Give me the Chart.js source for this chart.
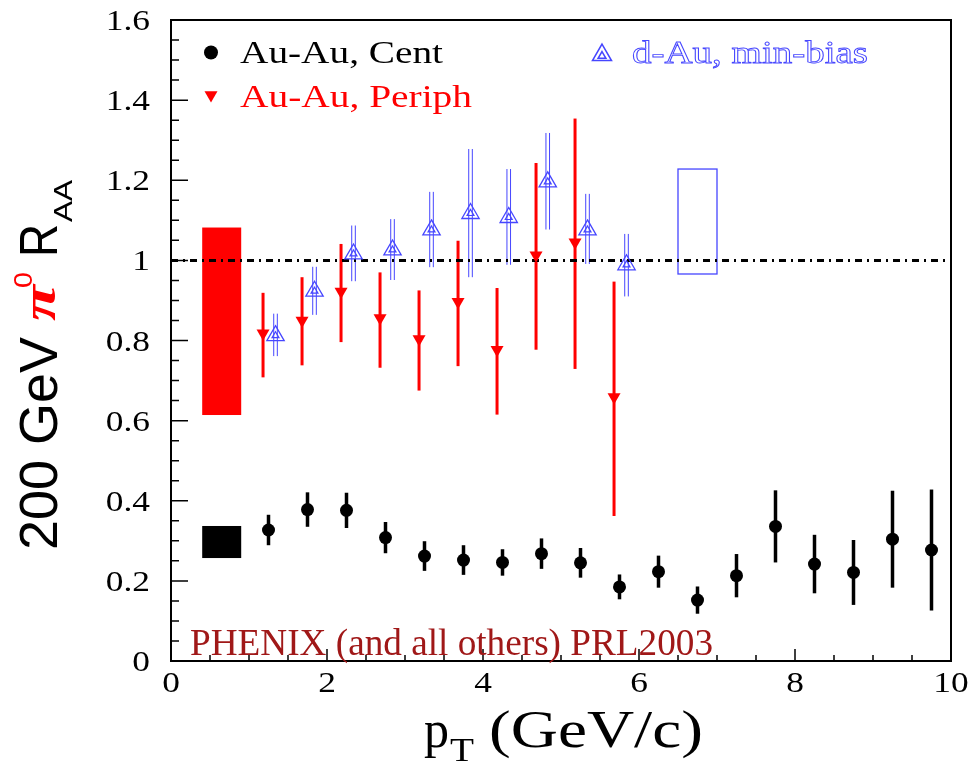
<!DOCTYPE html>
<html>
<head>
<meta charset="utf-8">
<script src="https://cdn.jsdelivr.net/npm/chart.js@4.4.0/dist/chart.umd.min.js"></script>
<style>
  html, body { margin: 0; padding: 0; background: #fff; }
</style>
</head>
<body>
<canvas id="raaChart" width="980" height="764"></canvas>
<script>
// Au-Au central
const centPt  = [1.25, 1.75, 2.25, 2.75, 3.25, 3.75, 4.25, 4.75, 5.25, 5.75, 6.25, 6.75, 7.25, 7.75, 8.25, 8.75, 9.25, 9.75];
const centRaa = [0.327, 0.378, 0.376, 0.308, 0.262, 0.252, 0.246, 0.268, 0.245, 0.185, 0.223, 0.152, 0.213, 0.336, 0.242, 0.221, 0.304, 0.277];
const centErr = [0.038, 0.043, 0.044, 0.039, 0.037, 0.037, 0.033, 0.038, 0.037, 0.031, 0.040, 0.034, 0.054, 0.090, 0.073, 0.081, 0.121, 0.151];

// Au-Au peripheral
const periphPt  = [1.18, 1.68, 2.18, 2.68, 3.18, 3.68, 4.18, 4.68, 5.18, 5.68];
const periphRaa = [0.818, 0.850, 0.922, 0.856, 0.804, 0.897, 0.777, 1.013, 1.045, 0.659];
const periphLo  = [0.708, 0.738, 0.796, 0.732, 0.675, 0.736, 0.615, 0.777, 0.729, 0.362];
const periphHi  = [0.919, 0.958, 1.041, 0.970, 0.925, 1.049, 0.931, 1.243, 1.354, 0.947];

// d-Au min bias
const dauPt  = [1.34, 1.84, 2.34, 2.84, 3.34, 3.84, 4.33, 4.83, 5.34, 5.84];
const dauRaa = [0.812, 0.923, 1.016, 1.026, 1.076, 1.117, 1.107, 1.196, 1.076, 0.989];
const dauLo  = [0.761, 0.864, 0.948, 0.951, 0.983, 0.958, 0.989, 1.077, 0.991, 0.910];
const dauHi  = [0.867, 0.984, 1.087, 1.103, 1.171, 1.278, 1.228, 1.318, 1.166, 1.066];

// normalisation boxes
const centBoxX   = [0.4, 0.9];
const centBoxY   = [0.257, 0.337];
const periphBoxX = [0.4, 0.9];
const periphBoxY = [0.614, 1.082];
const dauBoxX    = [6.5, 7.0];
const dauBoxY    = [0.966, 1.228];

// unity line
const unityX = [0, 10];
const unityY = [1, 1];

// axes
const xTickValues = [0, 2, 4, 6, 8, 10];
const xTickLabels = ['0', '2', '4', '6', '8', '10'];
const yTickValues = [0, 0.2, 0.4, 0.6, 0.8, 1, 1.2, 1.4, 1.6];
const yTickLabels = ['0', '0.2', '0.4', '0.6', '0.8', '1', '1.2', '1.4', '1.6'];

const RED = '#ff0000';
const BLUE = '#4646ff';
const SERIF = '"Liberation Serif", serif';
const SANS = '"Liberation Sans", sans-serif';

function pts(xs, ys) {
  return xs.map((v, i) => ({ x: v, y: ys[i] }));
}

function stretchText(c, text, x, y, sx, align, stroke) {
  const w = c.measureText(text).width * sx;
  let left = x;
  if (align === 'right') left = x - w;
  else if (align === 'center') left = x - w / 2;
  c.save();
  c.translate(left, y);
  c.scale(sx, 1);
  if (stroke) c.strokeText(text, 0, 0);
  else c.fillText(text, 0, 0);
  c.restore();
}

function fitText(c, text, x, y, width, stroke) {
  const sx = width / c.measureText(text).width;
  stretchText(c, text, x, y, sx, 'left', stroke);
}

const decor = {
  id: 'decor',
  beforeDatasetsDraw(chart) {
    const c = chart.ctx;
    const xs = chart.scales.x, ys = chart.scales.y;
    c.save();
    // boxes
    c.fillStyle = RED;
    c.fillRect(xs.getPixelForValue(periphBoxX[0]), ys.getPixelForValue(periphBoxY[1]),
      xs.getPixelForValue(periphBoxX[1]) - xs.getPixelForValue(periphBoxX[0]),
      ys.getPixelForValue(periphBoxY[0]) - ys.getPixelForValue(periphBoxY[1]));
    c.fillStyle = '#000';
    c.fillRect(xs.getPixelForValue(centBoxX[0]), ys.getPixelForValue(centBoxY[1]),
      xs.getPixelForValue(centBoxX[1]) - xs.getPixelForValue(centBoxX[0]),
      ys.getPixelForValue(centBoxY[0]) - ys.getPixelForValue(centBoxY[1]));
    c.strokeStyle = BLUE;
    c.lineWidth = 1.3;
    c.strokeRect(xs.getPixelForValue(dauBoxX[0]), ys.getPixelForValue(dauBoxY[1]),
      xs.getPixelForValue(dauBoxX[1]) - xs.getPixelForValue(dauBoxX[0]),
      ys.getPixelForValue(dauBoxY[0]) - ys.getPixelForValue(dauBoxY[1]));

    // error bars
    c.strokeStyle = '#000';
    c.lineWidth = 3.5;
    centPt.forEach((p, i) => {
      const px = xs.getPixelForValue(p);
      c.beginPath();
      c.moveTo(px, ys.getPixelForValue(centRaa[i] - centErr[i]));
      c.lineTo(px, ys.getPixelForValue(centRaa[i] + centErr[i]));
      c.stroke();
    });
    c.strokeStyle = RED;
    c.lineWidth = 3;
    periphPt.forEach((p, i) => {
      const px = xs.getPixelForValue(p);
      c.beginPath();
      c.moveTo(px, ys.getPixelForValue(periphLo[i]));
      c.lineTo(px, ys.getPixelForValue(periphHi[i]));
      c.stroke();
    });
    c.strokeStyle = BLUE;
    c.lineWidth = 1;
    dauPt.forEach((p, i) => {
      const px = xs.getPixelForValue(p);
      const top = ys.getPixelForValue(dauHi[i]);
      const bot = ys.getPixelForValue(dauLo[i]);
      c.beginPath();
      c.moveTo(px - 1.8, top); c.lineTo(px - 1.8, bot);
      c.moveTo(px + 1.8, top); c.lineTo(px + 1.8, bot);
      c.stroke();
    });
    c.restore();
  },
  afterDraw(chart) {
    const c = chart.ctx;
    const xs = chart.scales.x, ys = chart.scales.y;
    const a = chart.chartArea;
    c.save();
    // frame
    c.strokeStyle = '#000';
    c.lineWidth = 2;
    c.strokeRect(a.left, a.top, a.right - a.left, a.bottom - a.top);

    // ticks
    c.lineWidth = 1.5;
    c.beginPath();
    for (let k = 0; k <= 32; k++) {
      const py = ys.getPixelForValue(k * 0.05);
      c.moveTo(a.left, py);
      c.lineTo(a.left + (k % 4 === 0 ? 17 : 8), py);
    }
    for (let k = 0; k <= 20; k++) {
      const px = xs.getPixelForValue(k * 0.5);
      c.moveTo(px, a.bottom);
      c.lineTo(px, a.bottom - (k % 4 === 0 ? 12 : 6));
    }
    c.stroke();

    // tick labels
    c.fillStyle = '#000';
    c.font = '29px ' + SERIF;
    c.textBaseline = 'alphabetic';
    yTickValues.forEach((v, i) => {
      stretchText(c, yTickLabels[i], 150, ys.getPixelForValue(v) + 10, 1.22, 'right');
    });
    xTickValues.forEach((v, i) => {
      stretchText(c, xTickLabels[i], xs.getPixelForValue(v), 692, 1.22, 'center');
    });

    // x title
    c.font = '52px ' + SERIF;
    fitText(c, 'p', 424, 747, 25);
    c.font = '34px ' + SERIF;
    fitText(c, 'T', 450, 761, 24);
    c.font = '52px ' + SERIF;
    fitText(c, '(GeV/c)', 489, 747, 214);

    // y title
    c.save();
    c.translate(57, 550);
    c.rotate(-Math.PI / 2);
    c.fillStyle = '#000';
    c.font = '54px ' + SANS;
    fitText(c, '200 GeV', 0, 0, 213);
    c.fillStyle = RED;
    c.font = 'italic bold 48px ' + SERIF;
    fitText(c, '\u03c0', 229, -2, 36);
    c.font = '26px ' + SANS;
    fitText(c, '0', 262, -25, 16);
    c.fillStyle = '#000';
    c.font = '54px ' + SANS;
    fitText(c, 'R', 293, 0, 33);
    c.font = '26px ' + SANS;
    fitText(c, 'AA', 328, 15, 42);
    c.restore();

    // legend
    const H = Chart.helpers;
    c.fillStyle = '#000';
    c.strokeStyle = '#000';
    H.drawPoint(c, { pointStyle: 'circle', radius: 7, borderWidth: 0 }, 211, 52.5);
    c.fillStyle = RED;
    c.strokeStyle = RED;
    H.drawPoint(c, { pointStyle: 'triangle', radius: 7.5, rotation: 180, borderWidth: 0 }, 211, 95);
    c.fillStyle = 'rgba(0,0,0,0)';
    c.strokeStyle = BLUE;
    H.drawPoint(c, { pointStyle: 'triangle', radius: 11, borderWidth: 1.3 }, 602, 55);
    H.drawPoint(c, { pointStyle: 'triangle', radius: 4.5, borderWidth: 1.3 }, 602, 56);

    c.font = '32px ' + SERIF;
    c.fillStyle = '#000';
    fitText(c, 'Au-Au, Cent', 240, 62.5, 203);
    c.fillStyle = RED;
    fitText(c, 'Au-Au, Periph', 240, 106.5, 232);
    c.strokeStyle = BLUE;
    c.lineWidth = 0.9;
    fitText(c, 'd-Au, min-bias', 632, 62.5, 236, true);

    // note
    c.font = '37px ' + SERIF;
    c.fillStyle = '#a01818';
    fitText(c, 'PHENIX (and all others) PRL2003', 190, 655, 523);
    c.restore();
  }
};

function buildChart() {
  new Chart(document.getElementById('raaChart').getContext('2d'), {
    type: 'scatter',
    data: {
      datasets: [
        {
          label: 'Au-Au, Cent',
          data: pts(centPt, centRaa),
          pointStyle: 'circle',
          pointRadius: 6.5,
          backgroundColor: '#000',
          borderColor: '#000',
          borderWidth: 0,
          order: 0
        },
        {
          label: 'Au-Au, Periph',
          data: pts(periphPt, periphRaa),
          pointStyle: 'triangle',
          rotation: 180,
          pointRadius: 7.5,
          backgroundColor: RED,
          borderColor: RED,
          borderWidth: 0,
          order: 1
        },
        {
          label: 'd-Au, min-bias',
          data: pts(dauPt, dauRaa),
          pointStyle: 'triangle',
          pointRadius: 10,
          backgroundColor: 'rgba(0,0,0,0)',
          borderColor: BLUE,
          borderWidth: 1.3,
          order: 2
        },
        {
          label: 'd-Au inner',
          data: pts(dauPt, dauRaa),
          pointStyle: 'triangle',
          pointRadius: 4,
          backgroundColor: 'rgba(0,0,0,0)',
          borderColor: BLUE,
          borderWidth: 1.2,
          order: 3
        },
        {
          label: 'unity',
          type: 'line',
          data: pts(unityX, unityY),
          borderColor: '#000',
          borderWidth: 3,
          borderDash: [7, 5, 2, 5],
          pointRadius: 0,
          fill: false,
          order: 9
        }
      ]
    },
    options: {
      responsive: false,
      animation: false,
      layout: { padding: { top: 20, right: 29, left: 0, bottom: 0 } },
      plugins: { legend: { display: false }, tooltip: { enabled: false } },
      scales: {
        x: {
          type: 'linear', min: 0, max: 10,
          ticks: { display: false, stepSize: 2 },
          grid: { display: false },
          border: { display: false },
          afterFit(s) { s.height = 103; }
        },
        y: {
          type: 'linear', min: 0, max: 1.6,
          ticks: { display: false, stepSize: 0.2 },
          grid: { display: false },
          border: { display: false },
          afterFit(s) { s.width = 171; }
        }
      }
    },
    plugins: [decor]
  });
}

Promise.all([
  document.fonts.load('29px "Liberation Serif"'),
  document.fonts.load('italic bold 48px "Liberation Serif"'),
  document.fonts.load('54px "Liberation Sans"')
]).then(buildChart, buildChart);
</script>
</body>
</html>
